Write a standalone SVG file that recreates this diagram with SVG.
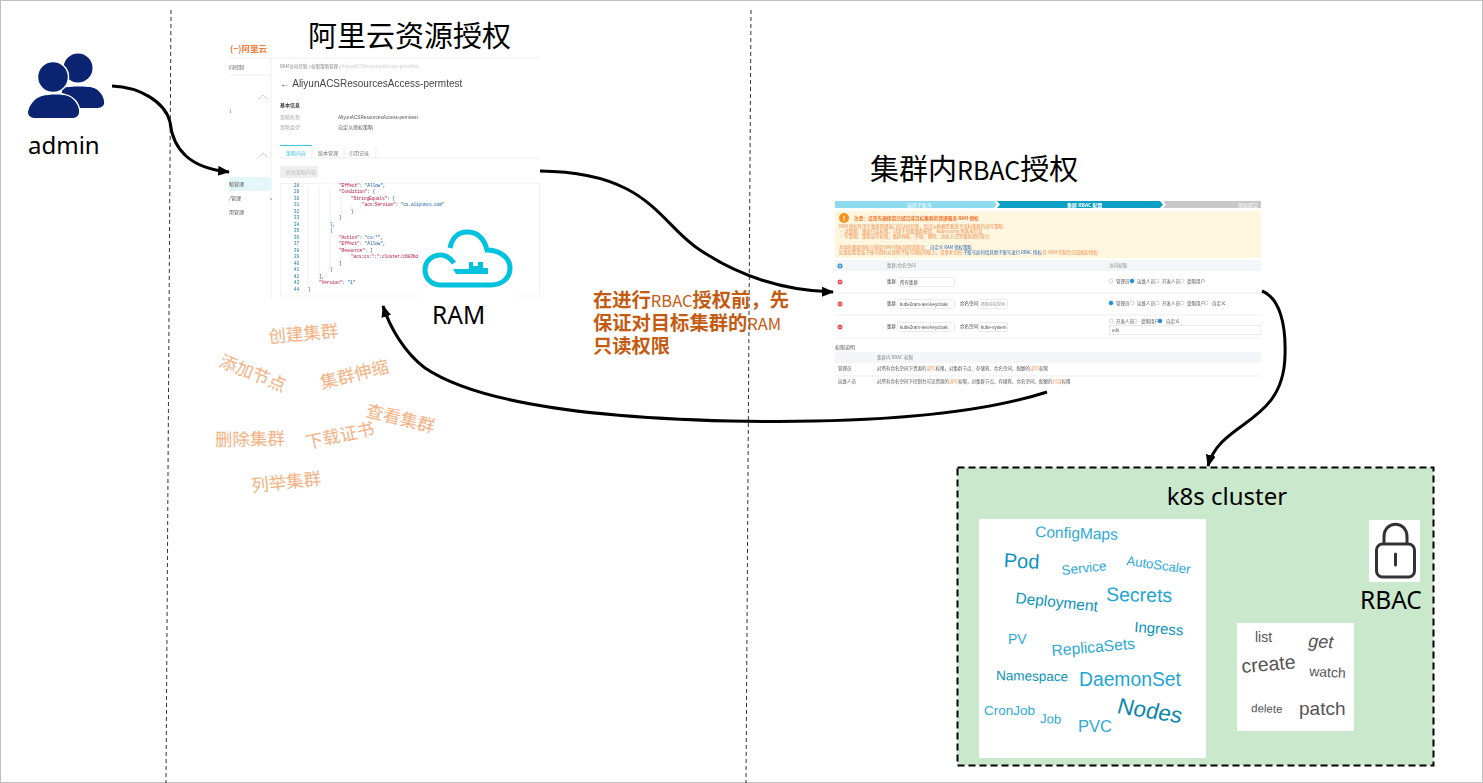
<svg xmlns="http://www.w3.org/2000/svg" width="1483" height="783" viewBox="0 0 1483 783">
<style>
text{font-family:"Liberation Sans","Noto Sans CJK SC",sans-serif}
.cjk{font-family:"Noto Sans CJK SC",sans-serif}
.lbl{font-family:"Noto Sans","Noto Sans CJK SC",sans-serif;font-size:24.500px;fill:#000}
.title{font-family:"Noto Sans CJK SC",sans-serif;font-size:29px;fill:#000}
.or{font-family:"Noto Sans CJK SC",sans-serif;font-size:17.500px;fill:#f4b183}
.note{font-family:"Noto Sans CJK SC","Noto Sans",sans-serif;font-size:19.300px;font-weight:700;fill:#c55a11}
.lat{font-size:16.500px;font-weight:400}
.conn{fill:none;stroke:#000;stroke-width:3;marker-end:url(#ah)}
.dash{stroke:#333;stroke-width:1;stroke-dasharray:4 3;fill:none}
.w1{fill:#2ea9d8}.w2{fill:#0f93bb}.w3{fill:#1fa4d6}
.vb{fill:#555}
.s{font-family:"Noto Sans CJK SC",sans-serif;font-size:5px}
.s2{font-family:"Noto Sans CJK SC",sans-serif;font-size:4.500px}
.y{font-family:"Noto Sans CJK SC",sans-serif;font-size:4.400px;fill:#f58b4c}
.code{font-family:"Liberation Mono",monospace;font-size:4.700px;letter-spacing:-.24px;fill:#1f5fa8}
.k{fill:#c0183f}
.ln{font-family:"Liberation Mono",monospace;font-size:4.700px;letter-spacing:-.24px;fill:#1f7f9e;text-anchor:end}
.g{stroke:#e6e6e6;stroke-width:.7;fill:none}
.sel{fill:#fff;stroke:#ddd;stroke-width:.6}
.r{fill:#fff;stroke:#bbb;stroke-width:.6}
.rs{fill:#1a8fdc;stroke:#1a8fdc;stroke-width:.6}
.rd{fill:#e8484f}
.wl{stroke:#fff;stroke-width:.7;fill:none}
</style>
<defs>
<marker id="ah" markerUnits="userSpaceOnUse" markerWidth="14" markerHeight="12" refX="11" refY="5" orient="auto"><path d="M0 0L12 5L0 10Z" fill="#000"/></marker>
<filter id="soft" x="-2%" y="-2%" width="104%" height="104%"><feGaussianBlur stdDeviation="0.3"/></filter>
</defs>
<rect width="1483" height="783" fill="#fff"/>
<rect x="0.500" y="0.500" width="1482" height="782" fill="none" stroke="#bfbfbf"/>
<g id="separators">
<path class="dash" d="M171 10L166 783"/>
<path class="dash" d="M751 10L746 783"/>
</g>

<g id="admin">
<circle cx="78" cy="68" r="14.500" fill="#0a2472"/>
<path d="M62 88C70 86 88 86 94 88C101 91 105 99 104 104C103 107 100 108 96 108H80C78 100 72 95 62 93Z" fill="#0a2472"/>
<circle cx="53" cy="77" r="15.500" fill="#0a2472" stroke="#fff" stroke-width="1.500"/>
<path d="M42 96C50 94 62 94 68 96C75 99 80 107 79 113C78 117 75 118 72 118H36C31 118 28 116 28 112C29 105 35 98 42 96Z" fill="#0a2472"/>
<text class="lbl" x="28" y="154" style="font-size:24px">admin</text>
</g>

<g id="ram-console">
<g filter="url(#soft)" fill="#777">
<text class="cjk" x="230" y="52" font-size="8.500" fill="#f47a37" font-weight="700">(−)阿里云</text>
<text class="s" x="229" y="69" fill="#555">问控制</text>
<path class="g" d="M229 75H271M271 58V298M229 58H540"/>
<path d="M259 99L263 95L267 99M259 157L263 153L267 157" fill="none" stroke="#bbb" stroke-width=".7"/>
<text class="s" x="229" y="113">1</text>
<rect x="229" y="177" width="42" height="14" fill="#e3f7fb"/>
<text class="s" x="229" y="186" fill="#555">略管理</text>
<text class="s" x="229" y="200" fill="#555">/管理</text>
<text class="s" x="229" y="214" fill="#555">用管理</text>
<text class="s" x="270" y="200">«</text>
<text class="s2" x="280" y="68" fill="#888">RAM访问控制 / 权限策略管理 / <tspan fill="#ccc">AliyunACSResourcesAccess-permtest</tspan></text>
<text x="280" y="87" font-size="10" fill="#444">← AliyunACSResourcesAccess-permtest</text>
<text class="s" x="280" y="107" font-weight="700" fill="#444">基本信息</text>
<text class="s" x="280" y="119" fill="#aaa">策略名称</text>
<text x="338" y="119" font-size="4.700" fill="#555">AliyunACSResourcesAccess-permtest</text>
<text class="s" x="280" y="129" fill="#aaa">策略类型</text>
<text class="s" x="338" y="129" fill="#555">自定义授权策略</text>
<path class="g" d="M280 158H540M312 146V158M344 146V158M376 146V158"/>
<path d="M280 145.500H312" stroke="#3fc6e0" stroke-width="1.200"/>
<text class="s" x="286" y="155" fill="#3fc6e0">策略内容</text>
<text class="s" x="318" y="155">版本管理</text>
<text class="s" x="349" y="155">引用记录</text>
<rect x="280" y="166" width="38" height="12" fill="#eee"/>
<text class="s" x="286" y="174" fill="#bbb">修改策略内容</text>
<rect x="280.500" y="183.500" width="259" height="112.500" fill="none" stroke="#eee" stroke-width=".7"/>
<path class="g" d="M308 186V288M319 186V282M330 186V223M330 229V269M341 197V217M341 236V262M351 204V210M351 256V262M361 204V208"/>
<text class="ln" x="299" y="186.500">28</text><text class="ln" x="299" y="193">29</text><text class="ln" x="299" y="199.500">30</text><text class="ln" x="299" y="206">31</text><text class="ln" x="299" y="212.500">32</text><text class="ln" x="299" y="219">33</text><text class="ln" x="299" y="225.500">34</text><text class="ln" x="299" y="232">35</text><text class="ln" x="299" y="238.500">36</text><text class="ln" x="299" y="245">37</text><text class="ln" x="299" y="251.500">38</text><text class="ln" x="299" y="258">39</text><text class="ln" x="299" y="264.500">40</text><text class="ln" x="299" y="271">41</text><text class="ln" x="299" y="277.500">42</text><text class="ln" x="299" y="284">43</text><text class="ln" x="299" y="290.500">44</text>
<text class="code" x="339" y="186.500"><tspan class="k">"Effect"</tspan>: "Allow",</text>
<text class="code" x="339" y="193"><tspan class="k">"Condition"</tspan>: {</text>
<text class="code" x="351" y="199.500"><tspan class="k">"StringEquals"</tspan>: {</text>
<text class="code" x="362" y="206"><tspan class="k">"acs:Service"</tspan>: "cs.aliyuncs.com"</text>
<text class="code" x="351" y="212.500">}</text>
<text class="code" x="339" y="219">}</text>
<text class="code" x="330" y="225.500">},</text>
<text class="code" x="330" y="232">{</text>
<text class="code" x="339" y="238.500"><tspan class="k">"Action"</tspan>: "cs:*",</text>
<text class="code" x="339" y="245"><tspan class="k">"Effect"</tspan>: "Allow",</text>
<text class="code" x="339" y="251.500"><tspan class="k">"Resource"</tspan>: [</text>
<text class="code k" x="351" y="258">"acs:cs:*:*:cluster/c083bd</text>
<text class="code" x="339" y="264.500">]</text>
<text class="code" x="330" y="271">}</text>
<text class="code" x="319" y="277.500">],</text>
<text class="code" x="319" y="284"><tspan class="k">"Version"</tspan>: "1"</text>
<text class="code" x="308" y="290.500">}</text>
</g>
<text class="title" x="308" y="47">阿里云资源授权</text>
</g>

<g id="ram">
<rect x="418" y="226" width="100" height="72" fill="#fff"/>
<path d="M450 248C452 238 458 232 467 232C477 232 484 238 487 250C500 250 510 258 510 268C510 278 502 285 491 285H441C431 285 425 278 425 270C425 261 432 255 441 255C447 255 451 259 454 263" fill="none" stroke="#00c1de" stroke-width="5"/>
<path d="M453 269H469V262H473V266H478V262H483V268H488V274H456Z" fill="#00c1de"/>
<text class="lbl" x="432" y="324">RAM</text>
</g>

<g id="ram-actions">
<text class="or" transform="translate(269 343) rotate(-5)">创建集群</text>
<text class="or" transform="translate(218 366) rotate(22)">添加节点</text>
<text class="or" transform="translate(322 389) rotate(-14)">集群伸缩</text>
<text class="or" transform="translate(365 416) rotate(14)">查看集群</text>
<text class="or" transform="translate(215 446) rotate(-1)">删除集群</text>
<text class="or" transform="translate(307 449) rotate(-12)">下载证书</text>
<text class="or" transform="translate(252 492) rotate(-6)">列举集群</text>
</g>

<g id="rbac-note">
<text class="note" x="593" y="307">在进行<tspan class="lat">RBAC</tspan>授权前，先</text>
<text class="note" x="593" y="330">保证对目标集群的<tspan class="lat">RAM</tspan></text>
<text class="note" x="593" y="353">只读权限</text>
</g>

<g id="rbac-console">
<text class="title" x="870" y="180">集群内<tspan style="font-size:25px">RBAC</tspan>授权</text>
<g filter="url(#soft)" fill="#777">
<path d="M835 201H994L997 204.500L994 208H835Z" fill="#8edbf0"/>
<path d="M997 201H1160L1163 204.500L1160 208H997L1000 204.500Z" fill="#0aa0c4"/>
<path d="M1163 201H1261V208H1163L1166 204.500Z" fill="#c8c8c8"/>
<text class="s" x="907" y="207" fill="#fff">选择子账号</text>
<text class="s" x="1067" y="207" fill="#fff" font-weight="700">集群 RBAC 配置</text>
<text class="s" x="1238" y="207" fill="#fff">授权提交</text>
<rect x="835" y="211" width="426" height="47" fill="#fff6e0"/>
<circle cx="844" cy="218" r="5" fill="#f7931e"/>
<text x="844" y="221" font-size="8" fill="#fff" text-anchor="middle" font-weight="700">!</text>
<text class="cjk" x="854" y="220" font-size="4.700" fill="#f5702a" font-weight="700">注意：请首先确保您已经完成目标集群的普通服务 RAM 授权</text>
<text class="y" x="839" y="228">RAM 授权作用于集群管理接口的访问控制，您可以根据需要授予目标集群的读写策略：</text>
<text class="y" x="839" y="233">• 读策略：集群只读权限，可用于查看集群配置、kubeconfig 等基本信息</text>
<text class="y" x="839" y="238">• 写策略：集群读写权限，集群伸缩、升级、删除、添加节点等集群管控能力</text>
<text class="y" x="839" y="249">具体的集群授权可参阅 RAM 授权说明请参见： <tspan fill="#2a6ab0">自定义 RAM 授权策略</tspan></text>
<text class="y" x="839" y="254">如果您希望该子账号拥有对其他子账号授权的能力，请参考文档 <tspan fill="#2a6ab0">子账号如何给其他子账号进行 RBAC 授权</tspan> 在 RAM 控制台完成相应授权</text>
<rect x="835" y="260" width="426" height="11" fill="#f3f5f8"/>
<circle cx="840" cy="266" r="2.500" fill="#1a8fdc"/>
<path class="wl" d="M838.500 266H841.500M840 264.500V267.500"/>
<text class="s2" x="887" y="267" fill="#888">集群/命名空间</text>
<text class="s2" x="1109" y="267" fill="#888">访问权限</text>
<path class="g" d="M835 293H1261M835 315H1261M835 338H1261"/>
<circle class="rd" cx="840" cy="282" r="2.500"/><circle class="rd" cx="840" cy="304" r="2.500"/><circle class="rd" cx="840" cy="327" r="2.500"/>
<path class="wl" d="M838.500 282H841.500M838.500 304H841.500M838.500 327H841.500"/>
<text class="s2" x="887" y="283" fill="#444">集群</text><text class="s2" x="887" y="305" fill="#444">集群</text><text class="s2" x="887" y="328" fill="#444">集群</text>
<rect class="sel" x="897.500" y="277.500" width="57" height="9" rx="1"/><rect class="sel" x="897.500" y="299.500" width="57" height="9" rx="1"/><rect class="sel" x="897.500" y="322.500" width="57" height="9" rx="1"/>
<text class="s2" x="900" y="283.500" fill="#555">所有集群</text>
<text x="900" y="305.500" font-size="4.500" fill="#555">kube2ram-test-keycloak</text>
<text x="900" y="328.500" font-size="4.500" fill="#555">kube2ram-test-keycloak</text>
<text class="s2" x="960" y="305" fill="#444">命名空间</text><text class="s2" x="960" y="328" fill="#444">命名空间</text>
<rect class="sel" x="978.500" y="299.500" width="29" height="9" rx="1"/><rect class="sel" x="978.500" y="322.500" width="29" height="9" rx="1"/>
<text class="s2" x="981" y="305.500" style="font-size:4px" fill="#888">所有命名空间</text>
<text x="981" y="328.500" font-size="4.500" fill="#555">kube-system</text>
<circle class="r" cx="1111" cy="281" r="2"/><circle class="rs" cx="1132" cy="281" r="2"/><circle class="r" cx="1157" cy="281" r="2"/><circle class="r" cx="1182" cy="281" r="2"/>
<text class="s2" x="1116" y="283" fill="#555">管理员</text><text class="s2" x="1137" y="283" fill="#555">运维人员</text><text class="s2" x="1162" y="283" fill="#555">开发人员</text><text class="s2" x="1187" y="283" fill="#555">受限用户</text>
<circle class="rs" cx="1111" cy="303" r="2"/><circle class="r" cx="1132" cy="303" r="2"/><circle class="r" cx="1157" cy="303" r="2"/><circle class="r" cx="1182" cy="303" r="2"/><circle class="r" cx="1206" cy="303" r="2"/>
<text class="s2" x="1116" y="305" fill="#555">管理员</text><text class="s2" x="1137" y="305" fill="#555">运维人员</text><text class="s2" x="1162" y="305" fill="#555">开发人员</text><text class="s2" x="1187" y="305" fill="#555">受限用户</text><text class="s2" x="1212" y="305" fill="#555">自定义</text>
<circle class="r" cx="1111" cy="321" r="2"/><circle class="r" cx="1135" cy="321" r="2"/><circle class="rs" cx="1160" cy="321" r="2"/>
<text class="s2" x="1116" y="323" fill="#555">开发人员</text><text class="s2" x="1141" y="323" fill="#555">受限用户</text><text class="s2" x="1166" y="323" fill="#555">自定义</text>
<rect class="sel" x="1109.500" y="325.500" width="151.500" height="9"/>
<text x="1112" y="332" font-size="4.500" fill="#666">edit</text>
<text class="s" x="835" y="349" fill="#555">权限说明</text>
<rect x="835" y="352" width="426" height="11" fill="#f3f5f8"/>
<text class="s2" x="877" y="359" fill="#888">集群内 RBAC 权限</text>
<text class="s2" x="838" y="370" fill="#555">管理员</text>
<text class="s2" x="877" y="370" fill="#555">对所有命名空间下资源的<tspan fill="#f58b4c">读写</tspan>权限，对集群节点、存储卷、命名空间、配额的<tspan fill="#f58b4c">读写</tspan>权限</text>
<path class="g" d="M835 376H1261"/>
<text class="s2" x="838" y="383" fill="#555">运维人员</text>
<text class="s2" x="877" y="383" fill="#555">对所有命名空间下控制台可见资源的<tspan fill="#f58b4c">读写</tspan>权限，对集群节点、存储卷、命名空间、配额的<tspan fill="#f58b4c">只读</tspan>权限</text>
</g>
</g>

<g id="k8s-cluster">
<rect x="957.500" y="467.500" width="476" height="298" fill="#c9e8cc" stroke="#000" stroke-width="2" stroke-dasharray="7 4"/>
<text class="lbl" x="1227" y="505" text-anchor="middle" style="font-size:24px">k8s cluster</text>
</g>

<g id="resources">
<rect x="979" y="519" width="227" height="239" fill="#fff"/>
<text class="w1" font-size="15.500" transform="translate(1035 537) rotate(2)">ConfigMaps</text>
<text class="w2" font-size="20" transform="translate(1003.500 567) rotate(3)">Pod</text>
<text class="w1" font-size="13.500" transform="translate(1062 575) rotate(-6)">Service</text>
<text class="w1" font-size="13.200" transform="translate(1126 565) rotate(8)">AutoScaler</text>
<text class="w3" font-size="19.500" transform="translate(1106 601) rotate(1)">Secrets</text>
<text class="w2" font-size="15.500" transform="translate(1015 603) rotate(6)">Deployment</text>
<text class="w2" font-size="15" transform="translate(1134 632) rotate(4)">Ingress</text>
<text class="w1" font-size="14" x="1008" y="644">PV</text>
<text class="w1" font-size="15.700" transform="translate(1052 656) rotate(-5)">ReplicaSets</text>
<text class="w2" font-size="13.500" transform="translate(996 680) rotate(1)">Namespace</text>
<text class="w3" font-size="19.300" x="1079" y="686">DaemonSet</text>
<text class="w1" font-size="13.500" x="984" y="715">CronJob</text>
<text class="w1" font-size="13" transform="translate(1040 723) rotate(2)">Job</text>
<text class="w1" font-size="16.500" x="1078" y="732">PVC</text>
<text fill="#0b86ab" font-size="22.500" transform="translate(1116 713) rotate(9) skewX(-6)">Nodes</text>
</g>

<g id="rbac">
<rect x="1369" y="520" width="51" height="62" fill="#fff"/>
<rect x="1376.500" y="544" width="38" height="33" rx="6" fill="none" stroke="#333" stroke-width="3"/>
<path d="M1384 544V537C1384 520 1407 520 1407 537V544" fill="none" stroke="#333" stroke-width="3"/>
<path d="M1395.500 554V565" stroke="#333" stroke-width="3" stroke-linecap="round"/>
<text class="lbl" x="1360" y="609">RBAC</text>
</g>

<g id="verbs">
<rect x="1237" y="623" width="117" height="108" fill="#fff"/>
<text class="vb" font-size="14" x="1255" y="642">list</text>
<text class="vb" font-size="18" font-style="italic" transform="translate(1308 647) rotate(3)">get</text>
<text class="vb" font-size="19.500" transform="translate(1242 673) rotate(-5)">create</text>
<text class="vb" font-size="14" transform="translate(1309 676) rotate(3)">watch</text>
<text class="vb" font-size="11.500" transform="translate(1251 712) rotate(2)">delete</text>
<text class="vb" font-size="19" x="1299" y="715">patch</text>
</g>

<g id="connectors">
<path class="conn" d="M112 86C140 87 165 102 170 122C173 150 190 168 229 172"/>
<path class="conn" d="M540 171C650 172 660 225 700 250C745 280 790 291 833 292"/>
<path class="conn" d="M1047 392C960 420 830 423 730 421C600 418 480 405 425 368C405 353 390 328 383 306"/>
<path class="conn" d="M1262 291C1280 298 1286 325 1285 355C1284 425 1220 420 1208 466"/>
</g>
</svg>
